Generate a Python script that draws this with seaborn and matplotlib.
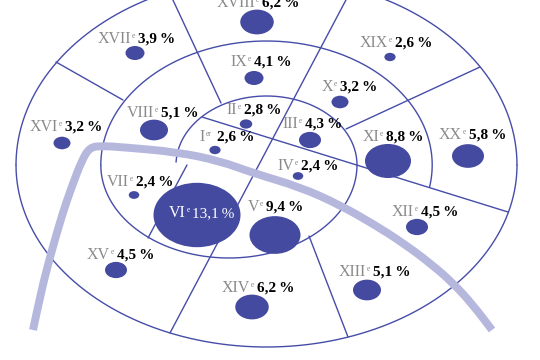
import numpy as np
import pandas as pd
import matplotlib.pyplot as plt
from matplotlib.patches import PathPatch
from matplotlib.path import Path
from matplotlib.transforms import Affine2D
import seaborn as sns

sns.set_theme(style="white")
plt.rcParams["font.family"] = ["Liberation Serif", "DejaVu Serif"]

BLUE = "#444a9f"
LINE = "#464da8"
RIVER = "#b5b7dd"
GRAY = "#8a8a8a"

## DATA
romans = ["I", "II", "III", "IV", "V", "VI", "VII", "VIII", "IX", "X",
          "XI", "XII", "XIII", "XIV", "XV", "XVI", "XVII", "XVIII", "XIX", "XX"]
shares = [2.6, 2.8, 4.3, 2.4, 9.4, 13.1, 2.4, 5.1, 4.1, 3.2,
          8.8, 4.5, 5.1, 6.2, 4.5, 3.2, 3.9, 6.2, 2.6, 5.8]
bubble_x = [215, 246, 310, 298, 275, 197, 134, 154, 254, 340,
            388, 417, 367, 252, 116, 62, 135, 257, 390, 468]
bubble_y = [150, 124, 140, 176, 235, 215, 195, 130, 78, 102,
            161, 227, 290, 307, 270, 143, 53, 22, 57, 156]
value_x = [217, 244, 305, 301, 266, 192, 136, 161, 254, 340,
           386, 421, 373, 257, 117, 65, 138, 262, 395, 469]
value_y = [141, 114, 128, 170, 211, 217, 186, 117, 66, 91,
           141, 216, 276, 292, 259, 131, 43, 7, 47, 139]

# bubble width in pixels for each share
widths = {2.4: 10.5, 2.6: 11.25, 2.8: 12.5, 3.2: 17, 3.9: 19, 4.1: 19, 4.3: 22, 4.5: 22,
          5.1: 28, 5.8: 32, 6.2: 33.5, 8.8: 46, 9.4: 51, 13.1: 87}

# Seine, control points of the curve
river_x = [33, 41, 50, 62, 72, 82, 90, 103, 120, 177, 220, 253, 300, 340, 375, 403, 430, 453, 473, 492]
river_y = [330, 292, 257, 215, 186, 160, 147, 146, 147, 152, 161, 173, 187, 205, 225, 243, 263, 283, 305, 330]

# boundaries between arrondissements: (x0, y0, x1, y1)
borders = [(56, 62, 123, 100), (172, -2, 221, 103), (347, -2, 170, 333), (480, 67, 346, 129),
           (508, 212, 202, 117), (309, 236, 348, 337), (187, 165, 148, 238)]

df = pd.DataFrame({"roman": romans, "share": shares, "x": bubble_x, "y": bubble_y})


def arc(cx, cy, a, b, t0, t1):
    t = np.linspace(t0, t1, 200)
    return cx + a * np.cos(t), cy - b * np.sin(t)


def smooth_path(xs, ys):
    # quadratic curve through the midpoints, so no kinks at the read points
    pts = list(zip(xs, ys))
    verts = [pts[0], pts[1]]
    codes = [Path.MOVETO, Path.LINETO]
    for p, q in zip(pts[1:-1], pts[2:]):
        verts += [p, ((p[0] + q[0]) / 2, (p[1] + q[1]) / 2)]
        codes += [Path.CURVE3, Path.CURVE3]
    verts.append(pts[-1])
    codes.append(Path.LINETO)
    return Path(verts[:1] + verts[2:], codes[:1] + codes[2:])


fig, ax = plt.subplots(figsize=(5.4, 3.6), dpi=100)
fig.subplots_adjust(0, 0, 1, 1)

# outer ellipse, top and bottom halves differ a bit
for t0, t1, b in [(0, np.pi, 188), (np.pi, 2 * np.pi, 182)]:
    xs, ys = arc(266.5, 165, 250.5, b, t0, t1)
    ax.plot(xs, ys, color=LINE, lw=1.0, zorder=1)

# the spiral inside
for params in [(266.5, 165, 165.7, 124, -0.18, np.pi),
               (228.9, 165, 128.1, 93, np.pi, 2 * np.pi),
               (266.5, 165, 90.5, 69, 0, 3.1)]:
    xs, ys = arc(*params)
    ax.plot(xs, ys, color=LINE, lw=1.0, zorder=1)

for x0, y0, x1, y1 in borders:
    ax.plot([x0, x1], [y0, y1], color=LINE, lw=1.0, zorder=1)

ax.add_patch(PathPatch(smooth_path(river_x, river_y), fill=False, edgecolor=RIVER, lw=5.7,
                       capstyle="butt", joinstyle="round", zorder=2))

# squashed circle as marker, sqrt(s) gives its width in points
ellipse = Path.unit_circle().transformed(Affine2D().scale(1, 0.74))
sizes = {k: (w * 72 / 100) ** 2 for k, w in widths.items()}
sns.scatterplot(data=df, x="x", y="y", size="share", sizes=sizes, marker=ellipse,
                color=BLUE, linewidth=0, legend=False, ax=ax, zorder=3)

for roman, share, x, y in zip(romans, shares, value_x, value_y):
    white = roman == "VI"
    suffix = "er" if roman == "I" else "e"
    gap = 12 if roman == "I" else 7
    if white:
        gap = 6
    value = f"{share:.1f}".replace(".", ",") + "\u2009%"
    ax.text(x - gap, y, roman, color="white" if white else GRAY, fontsize=11.5,
            ha="right", va="baseline", zorder=4)
    ax.text(x - gap + 0.5, y - 5, suffix, color="white" if white else GRAY, fontsize=5.5,
            ha="left", va="baseline", zorder=4)
    ax.text(x, y, value, color="white" if white else "black", fontsize=11,
            fontweight="normal" if white else "bold", ha="left", va="baseline", zorder=4)

ax.set_xlim(0, 540)
ax.set_ylim(360, 0)
ax.axis("off")

fig.savefig("out.png", dpi=100, facecolor="white")
